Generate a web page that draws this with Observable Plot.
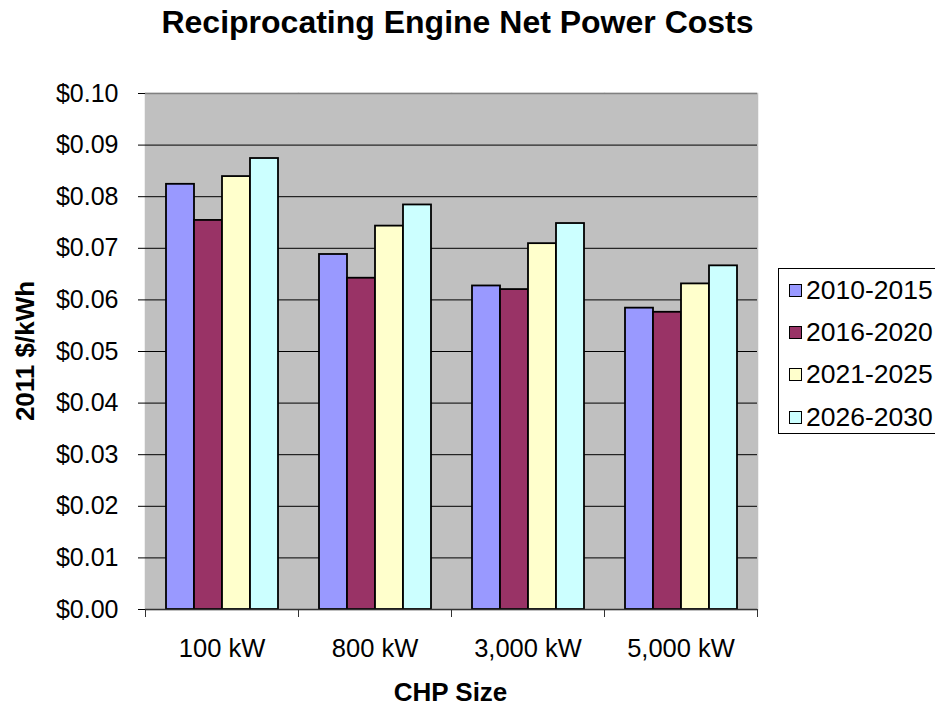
<!DOCTYPE html>
<html><head><meta charset="utf-8">
<script src="https://cdn.jsdelivr.net/npm/d3@7"></script>
<script src="https://cdn.jsdelivr.net/npm/@observablehq/plot@0.6"></script>
<style>
body{margin:0;background:#fff;}
#wrap{position:relative;width:935px;height:706px;overflow:hidden;font-family:"Liberation Sans",Arial,sans-serif;color:#000;background:#fff;}
#wrap svg{position:absolute;left:0;top:0;}
.t{position:absolute;white-space:nowrap;line-height:1;}
.legend{position:absolute;left:778px;top:268px;width:180px;height:166px;border:1px solid #000;box-sizing:border-box;background:#fff;}
.lg-item{position:absolute;left:10px;height:26px;display:flex;align-items:center;font-size:26.5px;line-height:1;}
.lg-sw{width:13px;height:13px;border:1px solid #000;box-sizing:border-box;margin-right:4px;}
</style></head><body><div id="wrap"></div>
<script>
const categories = ["100 kW", "800 kW", "3,000 kW", "5,000 kW"];
const series = ["2010-2015", "2016-2020", "2021-2025", "2026-2030"];
const v2010_2015 = [0.0824, 0.0688, 0.0627, 0.0584];
const v2016_2020 = [0.0754, 0.0642, 0.0620, 0.0576];
const v2021_2025 = [0.0839, 0.0743, 0.0709, 0.0631];
const v2026_2030 = [0.0874, 0.0784, 0.0748, 0.0666];
const seriesColors = ["#9999FF", "#993366", "#FFFFCC", "#CCFFFF"];
const yTicks = [0, 0.01, 0.02, 0.03, 0.04, 0.05, 0.06, 0.07, 0.08, 0.09, 0.10];
const title = "Reciprocating Engine Net Power Costs";
const xTitle = "CHP Size";
const yTitle = "2011 $/kWh";

const values = [v2010_2015, v2016_2020, v2021_2025, v2026_2030];
const data = categories.flatMap((c, i) => series.map((s, j) => ({category: c, series: s, value: values[j][i]})));
const gridTicks = yTicks.filter(t => t > 0 && t < 0.1);

const W = 935, H = 706, mL = 145, mR = 178, mT = 93, mB = 97;
const bw = (W - mL - mR) / categories.length;
const firstCat = categories[0];
const lastCat = categories[categories.length - 1];

const chart = Plot.plot({
  width: W, height: H,
  marginLeft: mL, marginRight: mR, marginTop: mT, marginBottom: mB,
  style: {fontFamily: "'Liberation Sans', Arial, sans-serif", background: "transparent", color: "#000"},
  fx: {domain: categories, padding: 0},
  x: {domain: series, paddingInner: 0, paddingOuter: 0.72, axis: null},
  y: {domain: [0, 0.1]},
  color: {domain: series, range: seriesColors},
  marks: [
    Plot.frame({fill: "#c0c0c0", stroke: "#c0c0c0", strokeWidth: 1.5}),
    Plot.ruleY(gridTicks, {stroke: "#000", strokeWidth: 1}),
    Plot.barY(data, {fx: "category", x: "series", y: "value", fill: "series", stroke: "#000", strokeWidth: 1.8}),
    Plot.ruleY([0.1], {stroke: "#808080", strokeWidth: 1.5}),
    Plot.ruleX([lastCat], {fx: d => d, dx: bw / 2, stroke: "#808080", strokeWidth: 1.5}),
    Plot.ruleX([firstCat], {fx: d => d, dx: -bw / 2, stroke: "#333", strokeWidth: 1.5}),
    Plot.ruleY([0], {stroke: "#333", strokeWidth: 1.5}),
    Plot.axisY({ticks: yTicks, tickFormat: d => "$" + d.toFixed(2), tickSize: 7, tickPadding: 20, fontSize: 25, label: null, stroke: "#000"}),
    Plot.axisFx({anchor: "bottom", tickSize: 0, tickPadding: 29, fontSize: 25.5, label: null}),
    Plot.axisFx({anchor: "bottom", tickSize: 8, tickFormat: () => "", label: null, dx: -bw / 2, stroke: "#333"}),
    Plot.axisFx({anchor: "bottom", tickSize: 8, tickFormat: () => "", label: null, dx: bw / 2, stroke: "#333"})
  ]
});

const wrap = document.getElementById("wrap");
wrap.appendChild(chart);

function addText(txt, css) {
  const d = document.createElement("div");
  d.className = "t";
  d.textContent = txt;
  Object.assign(d.style, css);
  wrap.appendChild(d);
  return d;
}
addText(title, {left: "457.5px", top: "5.5px", transform: "translateX(-50%)", fontSize: "32px", fontWeight: "bold"});
addText(xTitle, {left: "450.5px", top: "679px", transform: "translateX(-50%)", fontSize: "26px", fontWeight: "bold"});
addText(yTitle, {left: "24.5px", top: "351px", transform: "translate(-50%,-50%) rotate(-90deg)", fontSize: "26px", fontWeight: "bold"});

const colorScale = chart.scale("color");
const legend = document.createElement("div");
legend.className = "legend";
const rowCenters = [21, 63, 105, 148];
series.forEach((s, i) => {
  const item = document.createElement("div");
  item.className = "lg-item";
  item.style.top = (rowCenters[i] - 13) + "px";
  const sw = document.createElement("div");
  sw.className = "lg-sw";
  sw.style.background = colorScale.apply(s);
  const lab = document.createElement("span");
  lab.textContent = s;
  item.appendChild(sw);
  item.appendChild(lab);
  legend.appendChild(item);
});
wrap.appendChild(legend);
</script>
</body></html>
